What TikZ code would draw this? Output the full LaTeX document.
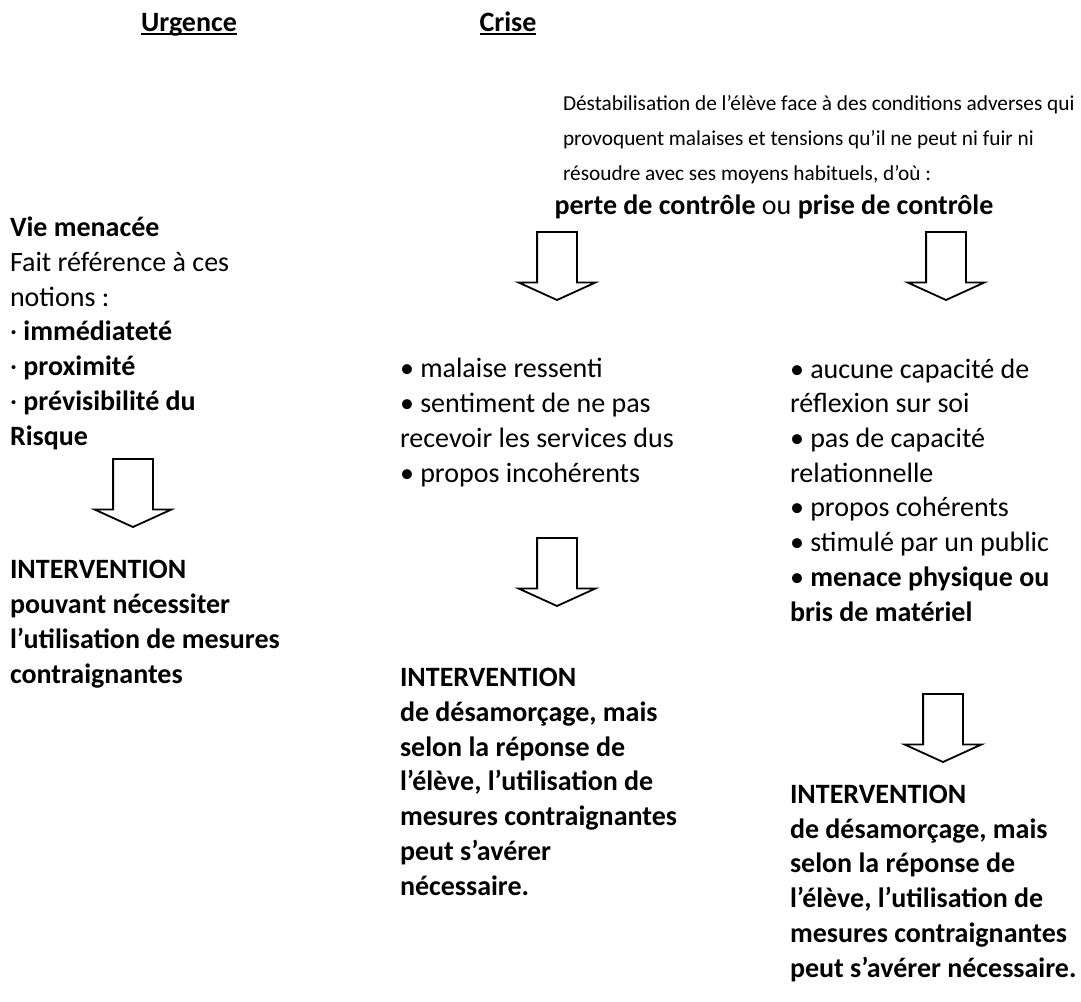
\documentclass[tikz,border=0pt]{standalone}
\usepackage{fontspec}
\setmainfont{Carlito}
\usepackage{tikz}
\usetikzlibrary{shapes.arrows,positioning}
\newcommand{\ulword}[1]{\setbox0\hbox{#1}\rlap{\rule[-3.5pt]{\wd0}{1.8pt}}\box0}
\tikzset{
  every node/.style={inner sep=0pt,outer sep=0pt},
  txt/.style={font=\fontsize{28}{34.7}\selectfont,align=left,anchor=base west},
  btxt/.style={txt,font=\fontsize{28}{34.7}\selectfont\bfseries},
  smtxt/.style={txt,font=\fontsize{21.3}{35}\selectfont},
  hdr/.style={font=\fontsize{28}{34.7}\selectfont\bfseries,anchor=base},
  bigarr/.style={single arrow,draw,line width=1.8pt,fill=white,rotate=-90,
    inner xsep=0pt,inner ysep=19pt,minimum height=68pt,
    single arrow head extend=18.5pt,single arrow tip angle=131,anchor=tail},
}
\begin{document}
\begin{tikzpicture}[x=1pt,y=-1pt]
  \useasboundingbox (0,0) rectangle (1081,1001);
  % headings
  \node[hdr] (hdUrg) at (189,31) {\ulword{Urgence}};
  \node[hdr] (hdCri) at (508,31) {\ulword{Crise}};
  % crise (base = last line)
  \node[smtxt] (destab) at (563,180) {D\'estabilisation de l’\'el\`eve face \`a des conditions adverses qui\\
    provoquent malaises et tensions qu’il ne peut ni fuir ni\\
    r\'esoudre avec ses moyens habituels, d’o\`u :};
  \node[txt,anchor=base] (perte) at (774,214) {\textbf{perte de contr\^ole} ou \textbf{prise de contr\^ole}};
  % urgence
  \node[txt] (vie) at (10,445) {\textbf{Vie menac\'ee}\\
    Fait r\'ef\'erence \`a ces\\
    notions :\\
    · \textbf{imm\'ediatet\'e}\\
    · \textbf{proximit\'e}\\
    · \textbf{pr\'evisibilit\'e du}\\
    \textbf{Risque}};
  \node[bigarr] (arrU) at (133,459) {};
  \node[btxt] (intU) at (10,683) {INTERVENTION\\
    pouvant n\'ecessiter\\
    l’utilisation de mesures\\
    contraignantes};
  % perte de controle
  \node[bigarr] (arrP) at (557,232) {};
  \node[txt] (perteL) at (400,482) {• malaise ressenti\\
    • sentiment de ne pas\\
    recevoir les services dus\\
    • propos incoh\'erents};
  \node[bigarr] (arrM) at (557,538) {};
  \node[btxt] (intM) at (400,895) {INTERVENTION\\
    de d\'esamor\c{c}age, mais\\
    selon la r\'eponse de\\
    l’\'el\`eve, l’utilisation de\\
    mesures contraignantes\\
    peut s’av\'erer\\
    n\'ecessaire.};
  % prise de controle
  \node[bigarr] (arrQ) at (946,232) {};
  \node[txt] (priseL) at (790,621) {• aucune capacit\'e de\\
    r\'eflexion sur soi\\
    • pas de capacit\'e\\
    relationnelle\\
    • propos coh\'erents\\
    • stimul\'e par un public\\
    • \textbf{menace physique ou}\\
    \textbf{bris de mat\'eriel}};
  \node[bigarr] (arrR) at (943,694) {};
  \node[btxt] (intR) at (790,977) {INTERVENTION\\
    de d\'esamor\c{c}age, mais\\
    selon la r\'eponse de\\
    l’\'el\`eve, l’utilisation de\\
    mesures contraignantes\\
    peut s’av\'erer n\'ecessaire.};
\end{tikzpicture}
\end{document}
